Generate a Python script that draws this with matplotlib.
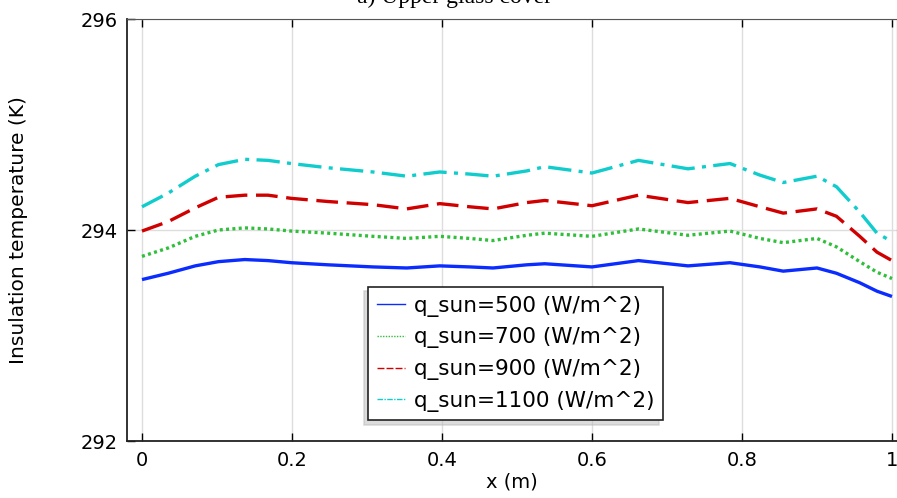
import matplotlib
matplotlib.use('Agg')
import matplotlib.pyplot as plt
from matplotlib.lines import Line2D

# position along the cover (m)
x = [0.0, 0.035, 0.071, 0.102, 0.137, 0.168, 0.199, 0.248, 0.308, 0.353, 0.397, 0.437, 0.468,
     0.513, 0.537, 0.60, 0.662, 0.728, 0.784, 0.824, 0.855, 0.90, 0.926, 0.957, 0.98, 1.0]

# insulation temperature (K) for each solar flux
t500 = [293.53, 293.59, 293.66, 293.70, 293.72, 293.71, 293.69, 293.67, 293.65, 293.64, 293.66,
        293.65, 293.64, 293.67, 293.68, 293.65, 293.71, 293.66, 293.69, 293.65, 293.61, 293.64,
        293.59, 293.50, 293.42, 293.37]
t700 = [293.75, 293.83, 293.94, 294.00, 294.02, 294.01, 293.99, 293.97, 293.94, 293.92, 293.94,
        293.92, 293.90, 293.95, 293.97, 293.94, 294.01, 293.95, 293.99, 293.92, 293.88, 293.92,
        293.84, 293.70, 293.60, 293.54]
t900 = [293.99, 294.08, 294.21, 294.31, 294.33, 294.33, 294.30, 294.27, 294.24, 294.20, 294.25,
        294.22, 294.20, 294.26, 294.28, 294.23, 294.33, 294.26, 294.30, 294.22, 294.16, 294.20,
        294.13, 293.94, 293.79, 293.71]
t1100 = [294.22, 294.35, 294.51, 294.62, 294.67, 294.66, 294.63, 294.59, 294.55, 294.51, 294.55,
         294.53, 294.51, 294.56, 294.60, 294.54, 294.66, 294.58, 294.63, 294.52, 294.45, 294.51,
         294.41, 294.17, 293.97, 293.89]

labels = ['q_sun=500 (W/m^2)', 'q_sun=700 (W/m^2)',
          'q_sun=900 (W/m^2)', 'q_sun=1100 (W/m^2)']
colors = ['#0a2cff', '#2fbf3a', '#d00000', '#10cccc']
dashes = [None, (0.9, 1.0), (6.5, 2.6), (7, 2.2, 1.2, 2.2)]

fig = plt.figure(figsize=(8.97, 4.98), dpi=100)
ax = fig.add_axes([127/897, 57/498, 770/897, 422/498])

for ys, c, d in zip([t500, t700, t900, t1100], colors, dashes):
    line, = ax.plot(x, ys, color=c, lw=2.4, solid_capstyle='butt', dash_capstyle='butt',
                    solid_joinstyle='round')
    if d is not None:
        line.set_dashes(d)

ax.set_xlim(-0.02, 1.0067)
ax.set_ylim(292, 296)
ax.set_xticks([0, 0.2, 0.4, 0.6, 0.8, 1.0])
ax.set_xticklabels(['0', '0.2', '0.4', '0.6', '0.8', '1'])
ax.set_yticks([292, 294, 296])
ax.grid(True, color='#dddddd', lw=1)
ax.set_axisbelow(True)
ax.tick_params(direction='in', top=True, length=6, width=1, labelsize=14, pad=7)
for s in ['left', 'bottom']:
    ax.spines[s].set_color('#222222')
    ax.spines[s].set_linewidth(1.3)
ax.spines['top'].set_color('#555555')

ax.set_xlabel('x (m)', fontsize=14, labelpad=2)
ax.set_ylabel('Insulation temperature (K)', fontsize=14.5)
ax.yaxis.set_label_coords(-0.1286, 0.5)

handles = [Line2D([], [], color=c, lw=1) for c in colors]
handles[1].set_dashes((1, 1))
handles[2].set_dashes((5, 1.5))
handles[3].set_dashes((4, 1, 1, 1))
leg = ax.legend(handles, labels, loc='upper left', bbox_to_anchor=(0.313, 0.365),
                borderaxespad=0, fontsize=15.5, handlelength=1.3, handletextpad=0.45,
                labelspacing=0.5, borderpad=0.4, fancybox=False, framealpha=1,
                edgecolor='#222222', shadow={'ox': -3, 'oy': -3, 'color': '#bbbbbb'})
leg.get_frame().set_linewidth(1.2)

fig.text(0.507, 1 - 3/498, 'a) Upper glass cover', ha='center', va='baseline',
         fontsize=17, family='Liberation Serif')

fig.savefig('out.png', dpi=100)
